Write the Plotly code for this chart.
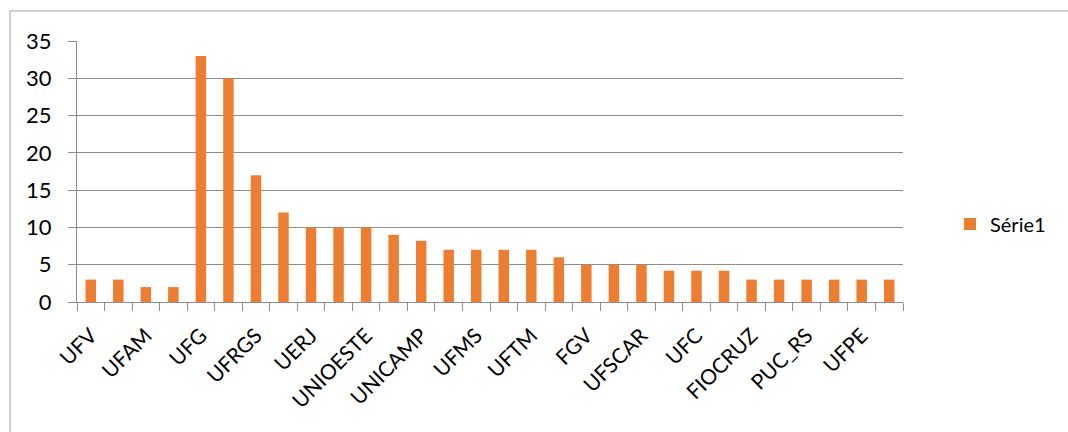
import plotly.graph_objects as go

categories = ["UFV", "UFMG", "UFAM", "UFPR", "UFG", "USP", "UFRGS", "UNB", "UERJ", "UFSC",
              "UNIOESTE", "UFRJ", "UNICAMP", "UNESP", "UFMS", "UFBA", "UFTM", "UFPA", "FGV", "UFU",
              "UFSCAR", "UFSM", "UFC", "UFRN", "FIOCRUZ", "UEL", "PUC_RS", "UFF", "UFPE", "UFPB"]
values = [3, 3, 2, 2, 33, 30, 17, 12, 10, 10,
          10, 9, 8.2, 7, 7, 7, 7, 6, 5, 5,
          5, 4.2, 4.2, 4.2, 3, 3, 3, 3, 3, 3]
series_name = "Série1"
tick_labels = [c if i % 2 == 0 else "" for i, c in enumerate(categories)]
y_ticks = [0, 5, 10, 15, 20, 25, 30, 35]

grid = "#8c8c8c"
font = "Lato, 'Open Sans', sans-serif"

fig = go.Figure(go.Bar(x=categories, y=values, name=series_name,
                       marker=dict(color="#ED7D31", line=dict(width=0)),
                       showlegend=True))

L, R, T, B = 77, 165, 41, 130
W, H = 1068, 432
pw, ph = W - L - R, H - T - B

fig.update_layout(
    width=W, height=H,
    margin=dict(l=L, r=R, t=T, b=B),
    paper_bgcolor="white", plot_bgcolor="white",
    bargap=0.62,
    font=dict(family=font, size=20, color="#000000"),
    legend=dict(x=(950 - L) / pw, y=(H - B - 224) / ph, xanchor="left", yanchor="middle",
                font=dict(size=20), bgcolor="rgba(0,0,0,0)"),
    xaxis=dict(type="category", tickmode="array", tickvals=categories, ticktext=tick_labels,
               tickson="boundaries", ticks="outside", ticklen=8, tickcolor=grid, tickwidth=1,
               tickangle=-45, showline=True, linecolor=grid, linewidth=1, showgrid=False,
               tickfont=dict(size=21), ticklabelstandoff=12),
    yaxis=dict(range=[0, 35], tickvals=y_ticks, ticks="outside", ticklen=8, tickcolor=grid,
               showline=True, linecolor=grid, linewidth=1, showgrid=True, gridcolor=grid,
               gridwidth=1, zeroline=False, tickfont=dict(size=22), ticklabelstandoff=12),
    shapes=[
        dict(type="line", xref="paper", yref="paper",
             x0=(10 - L) / pw, x1=(10 - L) / pw, y0=(H - B - 11) / ph, y1=(H - B - 440) / ph,
             line=dict(color="#a0a0a0", width=1)),
        dict(type="line", xref="paper", yref="paper",
             x0=(10 - L) / pw, x1=(1080 - L) / pw, y0=(H - B - 11) / ph, y1=(H - B - 11) / ph,
             line=dict(color="#a0a0a0", width=1)),
    ],
)

fig.write_html("out.html")
